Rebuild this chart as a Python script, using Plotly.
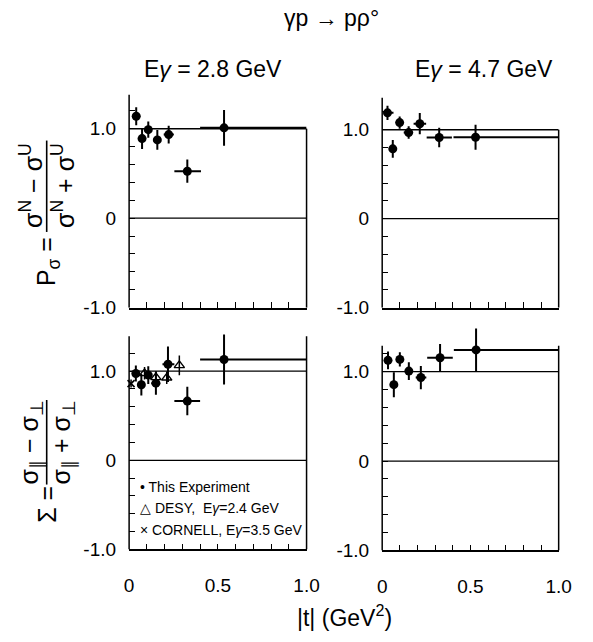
import plotly.graph_objects as go

W, H = 593, 642
FONT = "Liberation Sans"

# ---------------- data ----------------
# P_sigma, E=2.8 GeV
tl_t = [0.040, 0.073, 0.108, 0.159, 0.223, 0.328, 0.535]
tl_tmin = [0.020, 0.060, 0.095, 0.145, 0.195, 0.255, 0.400]
tl_tmax = [0.062, 0.086, 0.121, 0.173, 0.252, 0.405, 1.000]
tl_v = [1.14, 0.89, 0.99, 0.875, 0.935, 0.525, 1.01]
tl_e = [0.10, 0.115, 0.09, 0.11, 0.10, 0.13, 0.20]

# P_sigma, E=4.7 GeV
tr_t = [0.030, 0.060, 0.099, 0.150, 0.213, 0.323, 0.529]
tr_tmin = [0.010, 0.047, 0.086, 0.122, 0.178, 0.252, 0.404]
tr_tmax = [0.064, 0.073, 0.112, 0.175, 0.249, 0.395, 1.000]
tr_v = [1.19, 0.785, 1.08, 0.968, 1.068, 0.913, 0.915]
tr_e = [0.08, 0.10, 0.07, 0.07, 0.12, 0.11, 0.14]

# Sigma, E=2.8 GeV
bl_t = [0.038, 0.069, 0.108, 0.151, 0.219, 0.328, 0.535]
bl_tmin = [0.025, 0.056, 0.095, 0.125, 0.188, 0.255, 0.400]
bl_tmax = [0.051, 0.082, 0.121, 0.175, 0.255, 0.400, 1.000]
bl_v = [0.974, 0.847, 0.956, 0.865, 1.077, 0.664, 1.13]
bl_e = [0.09, 0.12, 0.10, 0.13, 0.20, 0.16, 0.28]

# DESY, E=2.4 GeV
desy_t = [0.087, 0.151, 0.212, 0.283]
desy_v = [0.975, 0.930, 0.925, 1.065]
desy_e = [0.07, 0.07, 0.07, 0.11]

# CORNELL, E=3.5 GeV
corn_t = [0.011]
corn_v = [0.86]
corn_e = [0.045]

# Sigma, E=4.7 GeV
br_t = [0.033, 0.066, 0.100, 0.151, 0.219, 0.328, 0.532]
br_tmin = [0.020, 0.053, 0.087, 0.138, 0.190, 0.255, 0.406]
br_tmax = [0.046, 0.079, 0.113, 0.164, 0.250, 0.400, 1.000]
br_v = [1.127, 0.855, 1.138, 1.007, 0.935, 1.156, 1.244]
br_e = [0.10, 0.14, 0.08, 0.10, 0.13, 0.155, 0.24]

x_tickvals = [0, 0.1, 0.2, 0.3, 0.4, 0.5, 0.6, 0.7, 0.8, 0.9, 1.0]
x_ticktext = ["0", "", "", "", "", "0.5", "", "", "", "", "1.0"]
y_tickvals = [-1.0, -0.8, -0.6, -0.4, -0.2, 0, 0.2, 0.4, 0.6, 0.8, 1.0, 1.2]
y_ticktext = ["-1.0", "", "", "", "", "0", "", "", "", "", "1.0", ""]

ref_lines = [0, 1.0]

# ---------------- layout helpers ----------------
def fx(p):
    return p / W


def fy(p):
    return 1 - p / H


Y_MIN, Y_MAX = -1.0, 1.5
panels = [
    # (axis suffix, x px domain, y px of -1, px per unit, top of left axis, top of right border, x labels)
    ("", (128, 311), 313, 91.0, 1.38, 1.0, False),
    ("2", (389, 571), 313, 90.5, 1.36, 1.0, False),
    ("3", (128, 311), 559, 90.7, 1.39, 1.39, True),
    ("4", (389, 571), 560, 90.9, 1.29, 1.29, True),
]

fig = go.Figure()

layout = dict(
    width=W, height=H,
    margin=dict(l=0, r=0, t=0, b=0),
    paper_bgcolor="white", plot_bgcolor="white",
    showlegend=False,
    font=dict(family=FONT, color="black"),
)
shapes = []

for suf, xd, ybot, scale, ltop, rtop, showx in panels:
    ytop_px = ybot - (Y_MAX - Y_MIN) * scale
    xa = dict(
        domain=[fx(xd[0]), fx(xd[1])], range=[0, 1.0],
        showline=True, linecolor="black", linewidth=1.5,
        ticks="inside", ticklen=6, tickwidth=1.2, tickcolor="black",
        tickvals=x_tickvals,
        ticktext=x_ticktext if showx else [""] * len(x_tickvals),
        tickfont=dict(size=19, family=FONT, color="black"),
        ticklabelstandoff=18,
        showgrid=False, zeroline=False, anchor="y" + suf, fixedrange=True,
    )
    ya = dict(
        domain=[fy(ybot), fy(ytop_px)], range=[Y_MIN, Y_MAX],
        showline=False,
        ticks="inside", ticklen=6, tickwidth=1.2, tickcolor="black",
        tickvals=y_tickvals, ticktext=y_ticktext,
        tickfont=dict(size=19, family=FONT, color="black"),
        ticklabelstandoff=12,
        showgrid=False, zeroline=False, anchor="x" + suf, fixedrange=True,
    )
    layout["xaxis" + suf] = xa
    layout["yaxis" + suf] = ya
    xr = "x" + suf
    yrf = "y" + suf
    for v in ref_lines:
        shapes.append(dict(type="line", xref=xr, yref=yrf, x0=0, x1=1.0, y0=v, y1=v,
                           line=dict(color="black", width=1.3), layer="below"))
    # left axis line and right border
    shapes.append(dict(type="line", xref=xr + " domain", yref=yrf,
                       x0=0, x1=0, y0=Y_MIN, y1=ltop, line=dict(color="black", width=1.5)))
    shapes.append(dict(type="line", xref=xr + " domain", yref=yrf,
                       x0=1, x1=1, y0=Y_MIN, y1=rtop, line=dict(color="black", width=1.5)))


def add_series(t, tmin, tmax, v, e, suf):
    fig.add_trace(go.Scatter(
        x=t, y=v, mode="markers", xaxis="x" + suf, yaxis="y" + suf,
        marker=dict(symbol="circle", size=9, color="black"),
        error_y=dict(type="data", array=e, visible=True, thickness=2, width=0, color="black"),
        error_x=dict(type="data", symmetric=False,
                     array=[b - a for a, b in zip(t, tmax)],
                     arrayminus=[a - b for a, b in zip(t, tmin)],
                     visible=True, thickness=2, width=0, color="black"),
        cliponaxis=False,
    ))


add_series(tl_t, tl_tmin, tl_tmax, tl_v, tl_e, "")
add_series(tr_t, tr_tmin, tr_tmax, tr_v, tr_e, "2")
add_series(bl_t, bl_tmin, bl_tmax, bl_v, bl_e, "3")
add_series(br_t, br_tmin, br_tmax, br_v, br_e, "4")

fig.add_trace(go.Scatter(
    x=desy_t, y=desy_v, mode="markers", xaxis="x3", yaxis="y3",
    marker=dict(symbol="triangle-up-open", size=9, color="black", line=dict(width=1.4)),
    error_y=dict(type="data", array=desy_e, visible=True, thickness=1.5, width=0, color="black"),
    cliponaxis=False,
))
fig.add_trace(go.Scatter(
    x=corn_t, y=corn_v, mode="markers", xaxis="x3", yaxis="y3",
    marker=dict(symbol="x-thin-open", size=7, color="black", line=dict(width=1.6, color="black")),
    error_y=dict(type="data", array=corn_e, visible=True, thickness=1.5, width=0, color="black"),
    cliponaxis=False,
))

# ---------------- texts ----------------
ann = []


def text(x, y, s, size, angle=0, xanchor="center", yanchor="middle"):
    ann.append(dict(x=fx(x), y=fy(y), xref="paper", yref="paper", text=s, showarrow=False,
                    textangle=angle, xanchor=xanchor, yanchor=yanchor,
                    font=dict(size=size, family=FONT, color="black")))


text(337, 18, "γp → pρ°", 23)
text(214, 70, "E<i>γ</i> = 2.8 GeV", 23)
text(494, 70, "E<i>γ</i> = 4.7 GeV", 23)
text(350, 627, "|t| (GeV<sup>2</sup>)", 23)

# y title, top: P_sigma = (sN - sU)/(sN + sU)
text(27, 189, "σ<sup>N</sup> − σ<sup>U</sup>", 25, angle=-90)
text(60, 189, "σ<sup>N</sup> + σ<sup>U</sup>", 25, angle=-90)
shapes.append(dict(type="line", xref="paper", yref="paper", x0=fx(43), x1=fx(43),
                   y0=fy(143), y1=fy(236), line=dict(color="black", width=1.6)))
text(45, 266, "P<sub>σ</sub> =", 25, angle=-90)

# y title, bottom: Sigma = (s|| - s_perp)/(s|| + s_perp)
text(27, 450, "σ<sub>∥</sub> − σ<sub>⊥</sub>", 25, angle=-90)
text(60, 450, "σ<sub>∥</sub> + σ<sub>⊥</sub>", 25, angle=-90)
shapes.append(dict(type="line", xref="paper", yref="paper", x0=fx(43), x1=fx(43),
                   y0=fy(407), y1=fy(493), line=dict(color="black", width=1.6)))
text(44, 513, "Σ =", 25, angle=-90)

# legend
text(137, 495, "• This Experiment", 14, xanchor="left")
text(137, 517, "△ DESY,  E<i>γ</i>=2.4 GeV", 14, xanchor="left")
text(137, 539, "× CORNELL, E<i>γ</i>=3.5 GeV", 14, xanchor="left")

layout["annotations"] = ann
layout["shapes"] = shapes
fig.update_layout(**layout)

fig.write_html("out.html")
